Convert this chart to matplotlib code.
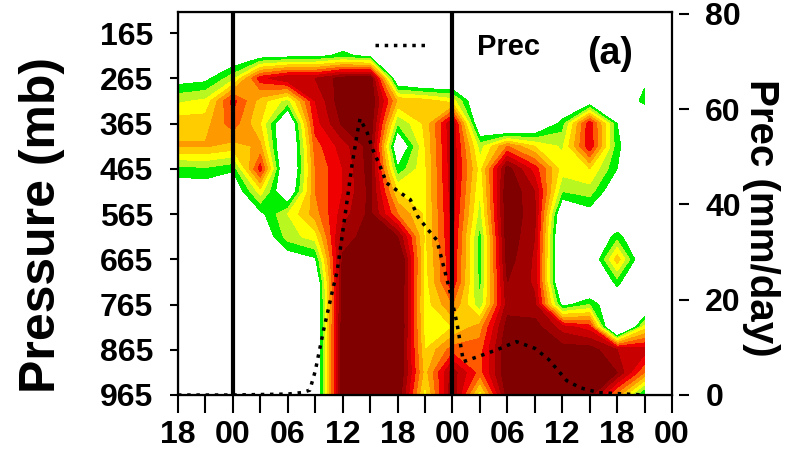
import matplotlib.pyplot as plt
import numpy as np
from matplotlib.ticker import MultipleLocator

plt.rcParams["font.family"] = ["Liberation Sans", "DejaVu Sans"]
plt.rcParams["font.weight"] = "bold"

# time axis in hours after the first 00 UTC, pressure levels in mb
hours = [-6, -3, 0, 3, 6, 9, 12, 15, 18, 21, 24, 27, 30, 33, 36, 39, 42, 45]
pressure = [165, 215, 265, 315, 365, 415, 465, 515, 565,
            615, 665, 715, 765, 815, 865, 915, 965]

# one row per hour, values from 165 mb down to 965 mb
field = [
    [0, 0, 0.3, 2.8, 4.6, 5.1, 1.6, 0, 0, 0, 0, 0, 0, 0, 0, 0, 0],
    [0, 0, 0.6, 3.2, 4.6, 5.1, 1.8, 0, 0, 0, 0, 0, 0, 0, 0, 0, 0],
    [0, -0.5, 2.6, 7.4, 6.6, 4.6, 1.2, -0.5, 0, 0, 0, 0, 0, 0, 0, 0, 0],
    [0, 0.2, 7.6, 4.5, 4.0, 5.2, 7.5, 3.5, 0.6, -0.5, 0, 0, 0, 0, 0, 0, 0],
    [0, 0.5, 9.0, 2.5, -1.5, -2, -2, -1, 3.0, 2.5, 0, 0, 0, 0, 0, 0, 0],
    [0, 0.6, 9.0, 8.0, 7.5, 6.5, 6.0, 6.0, 5.5, 3.5, 0.8, -1, -1.5, -1.5, -1.5, -1.5, -1.5],
    [-0.3, 1.3, 10.5, 10.8, 10.2, 8.5, 8.0, 8.0, 8.5, 9.5, 10.2, 10.5, 10.5, 10.8, 10.8, 10.8, 10.8],
    [-0.3, 0.6, 10.8, 11, 10.8, 10.5, 10.5, 10.3, 10.3, 10.5, 10.8, 11, 11, 11, 11, 11, 11],
    [-1, -1, -1, 4.8, 2.0, -1.0, 1.2, 4.0, 6.0, 10, 12, 12, 12, 12, 11.5, 11.5, 11],
    [-1, -1, -2, 4.5, 4.2, 4.0, 3.8, 3.8, 3.8, 3.8, 3.6, 3.5, 3.4, 3.5, 4.0, 4.5, 3.5],
    [-1.5, -1.5, -1.5, 3.5, 9.0, 8.8, 8.8, 8.6, 8.4, 8.2, 8.0, 7.8, 6.0, 4.0, 6.5, 9.5, 10.0],
    [-1, -1, -1, -1, -1, 2.5, 3.5, 3.0, 2.5, 1.5, 1.5, 1.6, 2.2, 5.5, 6.5, 6.5, 3.2],
    [-1, -1, -1, -1, -3, 6.0, 10.5, 11, 11, 10.8, 10.5, 10, 9.5, 10.5, 11, 11, 10.5],
    [-1, -1, -1, -1, -1.5, 4.0, 7.5, 9.0, 9.2, 9.0, 8.8, 8.8, 9.2, 10.5, 11, 11, 10.5],
    [-1, -1, -1, -1, 1.5, 2.8, 3.5, 2.0, -1, -2, -2, -2, 0.5, 8.5, 10.5, 11, 10.5],
    [-1, -1, -1, -0.5, 7.8, 7.8, 4.0, 2.5, 0.3, -1, -1, -2, 2.0, 7.5, 10.5, 10.5, 10.5],
    [-1, -1, -1, -1, 1.0, 1.3, 1.0, -0.5, -1, 1.5, 4.6, 1.5, -1, -4, 9.0, 10, 5.5],
    [-1, -1, 0.6, 1.5, -2, -1, -1, -1, -1, -1, -1, -2, -2, 3.5, 8.5, 6.0, 0.5],
]

# precipitation (mm/day)
prec_hours = [-6, 0, 6, 7.5, 8.4, 9, 9.9, 10.9, 11.4, 12.5, 13, 13.6, 13.9,
              14.7, 15.3, 16.1, 16.8, 17.9, 19.4, 20.2, 21.2, 22.3, 23.7,
              24.5, 25.2, 27, 29, 31, 33, 34.5, 36.5, 38, 40, 42, 45]
prec = [0, 0, 0.2, 0.5, 1, 5, 13.5, 22, 26, 41, 48, 55, 58,
        55, 51.5, 48, 44.5, 43, 41, 37.5, 35, 32.5, 22,
        15, 7, 8.2, 9.6, 11.2, 9.8, 7.5, 3, 1.5, 0.5, 0.3, 0]

xtick_hours = [-6, 0, 6, 12, 18, 24, 30, 36, 42, 48]
xtick_labels = ["18", "00", "06", "12", "18", "00", "06", "12", "18", "00"]
ytick_pressure = [165, 265, 365, 465, 565, 665, 765, 865, 965]
prec_ticks = [0, 20, 40, 60, 80]
day_breaks = [0, 24]

levels = [1, 2, 3, 4, 5, 6, 7, 8, 9, 10, 50]
colors = ["#00f000", "#b8f820", "#ffff00", "#ffcc00", "#ff9900",
          "#ff5a00", "#f00000", "#c80000", "#a00000", "#800000"]

fig = plt.figure(figsize=(7.88, 4.58), dpi=100)
ax = fig.add_axes([178 / 788, 1 - 395 / 458, 494 / 788, 383 / 458])

Z = np.array(field).T
ax.contourf(hours, pressure, Z, levels=levels, colors=colors)
for t in day_breaks:
    ax.axvline(t, color="black", lw=3)

ax.set_xlim(-6, 48)
ax.set_ylim(965, 118.5)
ax.set_xticks(xtick_hours)
ax.set_xticklabels(xtick_labels)
ax.xaxis.set_minor_locator(MultipleLocator(3))
ax.set_yticks(ytick_pressure)
ax.tick_params(axis="x", which="both", direction="out", length=13, width=1.5,
               pad=5, labelsize=23)
ax.tick_params(axis="y", direction="out", length=6, width=1.5, pad=12,
               labelsize=23)
for s in ax.spines.values():
    s.set_linewidth(1.6)
ax.set_ylabel("Pressure (mb)", fontsize=36, fontweight="bold")
ax.yaxis.set_label_coords(-0.229, 0.444)

ax2 = ax.twinx()
ax2.plot(prec_hours, prec, color="black", ls=":", lw=2.5, label="Prec")
ax2.set_ylim(0, 80.4)
ax2.set_yticks(prec_ticks)
ax2.spines["right"].set_position(("outward", 5))
ax2.spines["right"].set_visible(False)
ax2.tick_params(axis="y", direction="out", length=7, width=1.5, pad=12,
                labelsize=23)
ax2.set_ylabel("Prec (mm/day)", fontsize=29, fontweight="bold",
               rotation=270, va="bottom")
ax2.yaxis.set_label_coords(1.1417, 0.463)

ax2.legend(loc="upper left", bbox_to_anchor=(0.399, 0.945), frameon=False,
           fontsize=21, handlelength=1.8, handletextpad=1.7,
           borderpad=0, borderaxespad=0)
ax2.text(0.8755, 0.89, "(a)", transform=ax2.transAxes, fontsize=27,
         ha="center", va="center")

fig.savefig("out.png", dpi=100)
